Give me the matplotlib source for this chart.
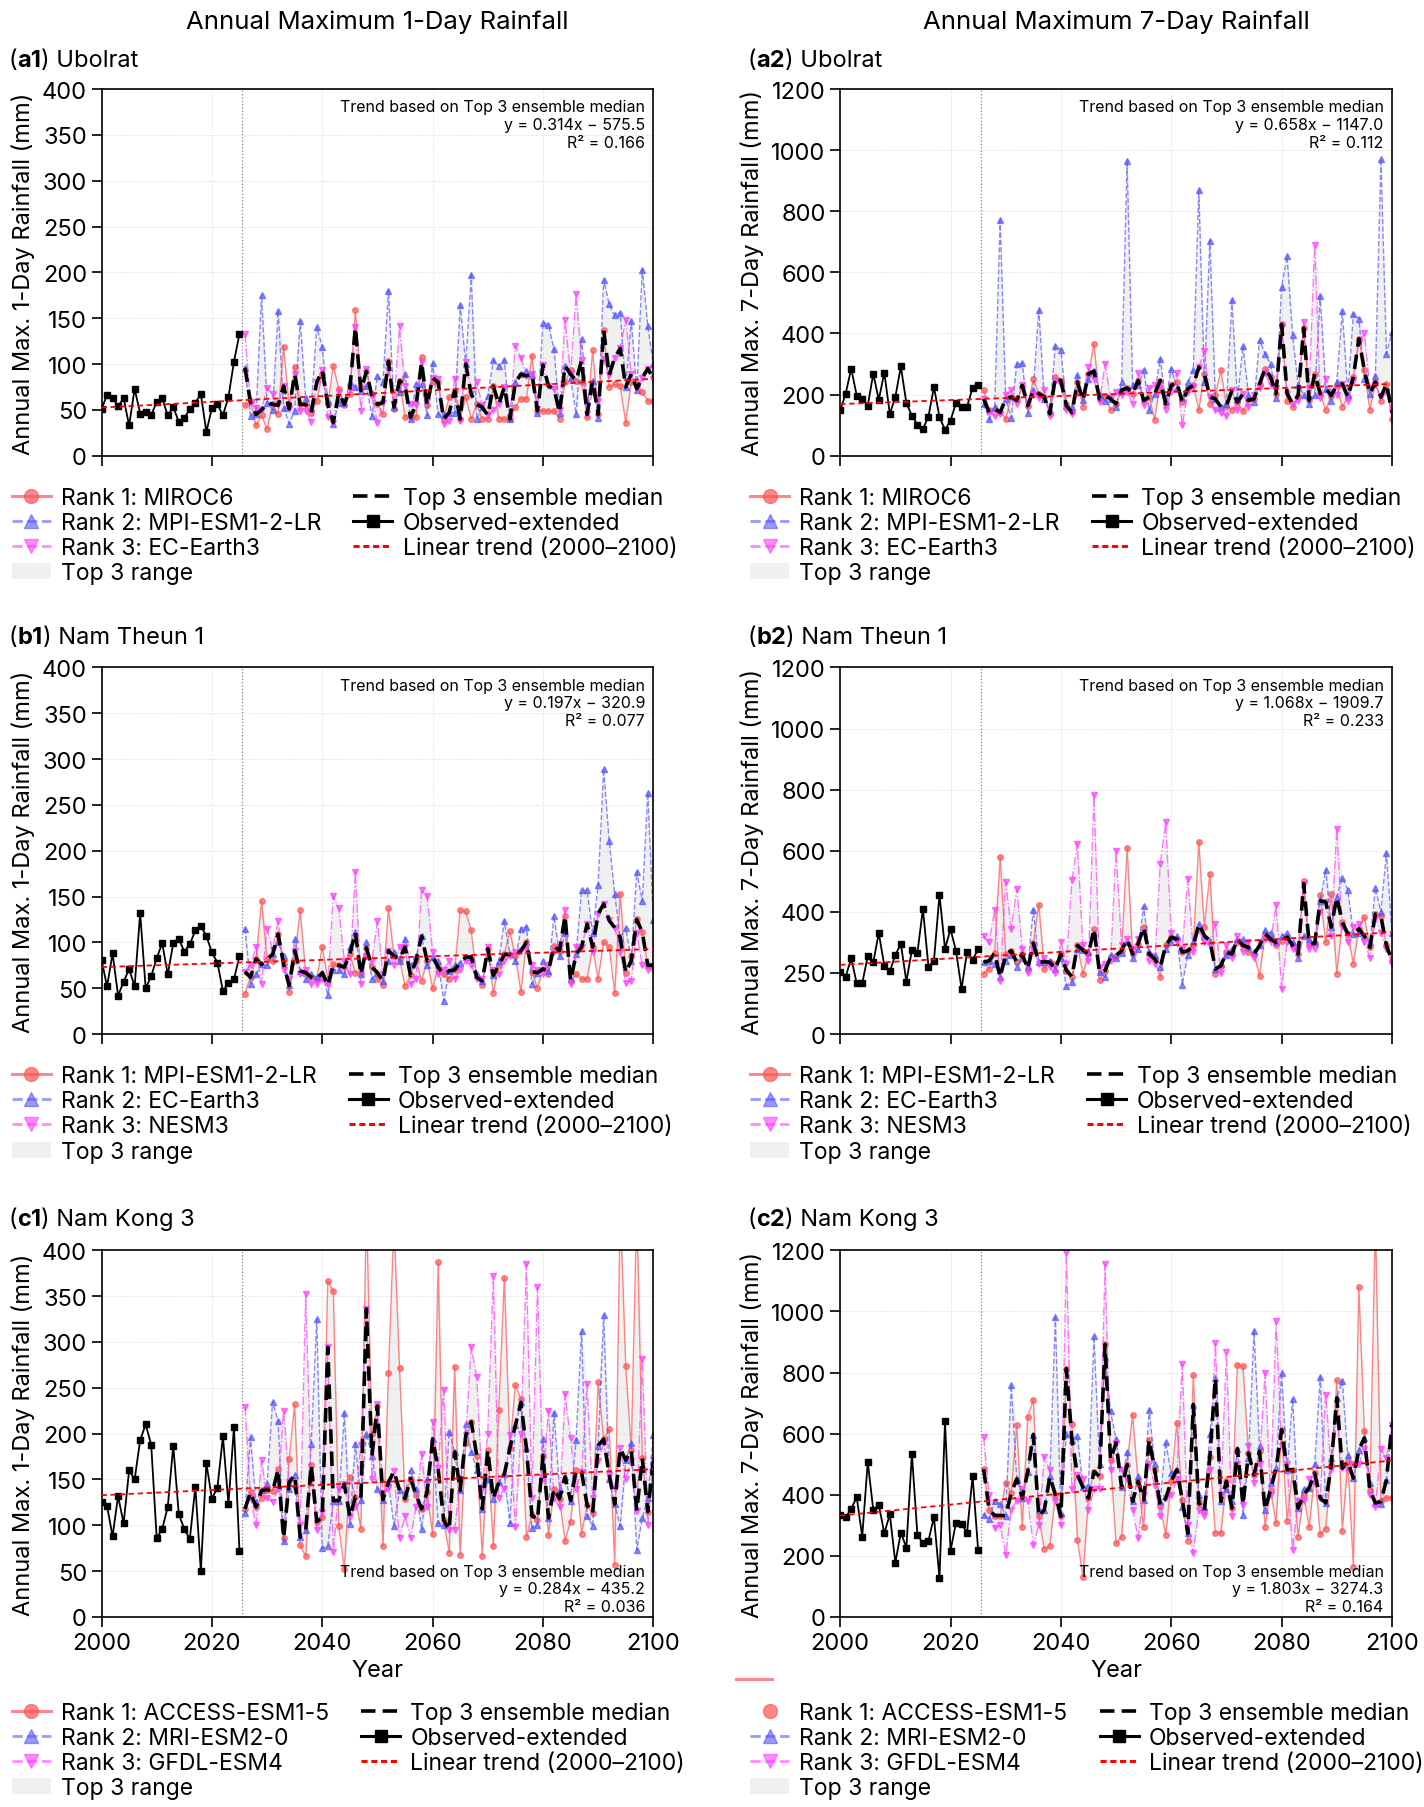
import numpy as np
import matplotlib
matplotlib.use('Agg')
import matplotlib.pyplot as plt
from matplotlib.lines import Line2D
from matplotlib.patches import Patch
from matplotlib.offsetbox import TextArea, HPacker, AnchoredOffsetbox

plt.rcParams['font.family'] = ['Inter', 'DejaVu Sans']

obs_years = np.arange(2000, 2026)
model_years = np.arange(2026, 2101)

# ---------------- (a1) Ubolrat, 1-day ----------------
a1_obs = [51, 66, 63, 54, 62.5, 33, 73, 46, 48, 44, 59, 62.5, 44, 53, 37, 41, 51, 58, 67, 26, 52, 56, 44, 64, 102.5, 133]
a1_rank1 = [55, 60, 33, 44, 29, 56, 45, 119, 55, 97, 56, 56, 47, 60, 89, 56, 98, 73, 55, 67,
            159, 75, 92, 67, 56, 45, 103, 51, 82, 42, 42, 42, 108, 55, 82, 80, 40, 64, 71, 40,
            64, 40, 56, 40, 40, 76, 40, 40, 40, 53, 62, 62, 109, 49, 49, 49, 49, 40, 80, 93,
            82, 80, 42, 115, 45, 137, 75, 78, 76, 36, 80, 78, 69, 60, 60]
a1_rank2 = [96, 43, 45, 175, 58, 50, 158, 52, 35, 49, 147, 63, 52, 140, 119, 60, 35, 58, 58, 80,
            75, 71, 76, 43, 87, 80, 180, 53, 70, 89, 40, 78, 78, 44, 101, 45, 44, 47, 47, 164,
            100, 197, 40, 53, 65, 104, 98, 104, 40, 80, 89, 92, 88, 47, 145, 143, 116, 47, 98, 85,
            45, 127, 60, 82, 41, 192, 165, 153, 156, 75, 147, 72, 203, 141, 100]
a1_rank3 = [133, 58, 52, 50, 74, 67, 55, 76, 51, 89, 49, 49, 37, 80, 93, 42, 36, 69, 56, 73,
            140, 49, 95, 65, 36, 58, 93, 56, 141, 76, 56, 55, 102, 60, 85, 84, 35, 38, 84, 38,
            102, 67, 80, 55, 44, 50, 56, 75, 42, 120, 107, 87, 89, 51, 99, 76, 73, 50, 148, 89,
            176, 104, 45, 70, 60, 105, 88, 107, 117, 148, 89, 73, 85, 95, 84]

# ---------------- (a2) Ubolrat, 7-day ----------------
a2_obs = [148, 203, 285, 197, 186, 164, 268, 183, 272, 137, 192, 292, 172, 131, 102, 88, 128, 225, 126, 85, 115, 173, 159, 161, 222, 232]
a2_rank1 = [215, 150, 153, 142, 120, 192, 181, 225, 164, 250, 203, 192, 137, 257, 246, 170, 142, 241, 160, 268,
            365, 186, 197, 150, 170, 214, 222, 203, 246, 181, 192, 117, 246, 170, 230, 241, 175, 219, 230, 150,
            268, 170, 200, 279, 164, 150, 175, 145, 181, 186, 235, 285, 257, 203, 430, 180, 160, 197, 418, 181,
            268, 203, 150, 197, 230, 160, 192, 257, 383, 279, 150, 241, 180, 235, 120]
a2_rank2 = [170, 120, 160, 770, 186, 124, 299, 303, 140, 214, 476, 185, 150, 358, 347, 164, 160, 263, 181, 250,
            277, 200, 180, 186, 160, 240, 964, 230, 230, 281, 150, 203, 318, 180, 285, 220, 190, 240, 280, 869,
            240, 704, 186, 159, 170, 509, 185, 359, 200, 175, 378, 334, 300, 190, 553, 652, 394, 230, 200, 170,
            200, 523, 219, 180, 240, 474, 200, 465, 449, 250, 203, 260, 971, 334, 405]
a2_rank3 = [186, 142, 130, 135, 200, 215, 170, 230, 170, 200, 190, 215, 130, 245, 230, 150, 135, 210, 200, 290,
            250, 175, 301, 190, 210, 200, 210, 170, 270, 165, 220, 230, 220, 150, 210, 270, 99, 210, 225, 290,
            342, 192, 150, 140, 130, 214, 150, 203, 160, 200, 220, 270, 230, 220, 420, 203, 170, 180, 438, 220,
            690, 190, 250, 210, 200, 235, 180, 240, 370, 400, 220, 230, 192, 210, 142]

# ---------------- (b1) Nam Theun 1, 1-day ----------------
b1_obs = [81, 52, 88, 42, 57, 71, 52, 132, 50, 63, 83, 99, 65, 99, 104, 90, 98, 113, 118, 107, 89, 78, 47, 56, 60, 85]
b1_rank1 = [44, 62, 82, 145, 82, 80, 109, 76, 46, 80, 135, 67, 62, 60, 95, 60, 76, 75, 73, 87,
            67, 67, 94, 73, 60, 53, 137, 85, 82, 52, 64, 80, 58, 80, 50, 73, 65, 60, 70, 135,
            134, 113, 62, 53, 93, 45, 75, 87, 112, 85, 46, 100, 68, 50, 71, 65, 96, 91, 129, 58,
            65, 60, 60, 95, 60, 100, 95, 45, 153, 67, 85, 125, 111, 75, 75]
b1_rank2 = [115, 55, 65, 76, 75, 87, 100, 85, 53, 104, 69, 60, 65, 62, 67, 43, 70, 70, 65, 95,
            111, 65, 100, 60, 67, 58, 80, 90, 80, 104, 75, 85, 107, 75, 84, 80, 36, 69, 75, 78,
            84, 84, 65, 58, 85, 64, 80, 123, 87, 80, 115, 117, 55, 67, 80, 69, 129, 85, 110, 60,
            87, 157, 157, 110, 163, 289, 211, 153, 105, 116, 80, 177, 145, 263, 124]
b1_rank3 = [68, 75, 95, 55, 115, 92, 123, 70, 60, 91, 65, 70, 55, 55, 60, 53, 151, 137, 80, 65,
            177, 55, 85, 80, 123, 65, 91, 75, 95, 95, 55, 60, 157, 151, 90, 65, 70, 80, 60, 70,
            80, 75, 60, 60, 95, 70, 65, 80, 85, 90, 91, 95, 75, 70, 65, 75, 90, 95, 135, 55,
            95, 95, 120, 90, 131, 142, 124, 116, 90, 56, 58, 110, 75, 70, 70]

# ---------------- (b2) Nam Theun 1, 7-day ----------------
b2_obs = [202, 188, 248, 166, 166, 255, 235, 331, 224, 205, 259, 295, 172, 275, 266, 410, 221, 240, 456, 279, 344, 271, 148, 270, 243, 277]
b2_rank1 = [197, 213, 265, 581, 262, 273, 235, 262, 213, 297, 424, 213, 235, 230, 262, 208, 188, 290, 197, 262,
            344, 177, 208, 251, 257, 273, 609, 262, 295, 350, 262, 246, 186, 290, 317, 311, 268, 273, 290, 628,
            350, 525, 197, 224, 268, 262, 300, 290, 270, 262, 191, 328, 311, 290, 306, 317, 290, 262, 500, 295,
            297, 454, 300, 459, 197, 366, 328, 230, 344, 383, 284, 393, 385, 290, 240]
b2_rank2 = [235, 240, 230, 186, 240, 260, 220, 250, 220, 407, 235, 237, 240, 213, 250, 158, 170, 280, 275, 270,
            330, 202, 186, 260, 250, 265, 300, 250, 280, 418, 270, 260, 219, 280, 300, 320, 162, 260, 300, 361,
            322, 306, 213, 230, 260, 280, 311, 310, 284, 270, 290, 340, 330, 300, 320, 330, 300, 250, 320, 310,
            300, 437, 538, 350, 448, 511, 472, 328, 330, 322, 300, 478, 400, 592, 330]
b2_rank3 = [320, 300, 407, 175, 497, 344, 475, 280, 200, 280, 230, 250, 220, 200, 300, 230, 503, 623, 290, 240,
            782, 220, 230, 240, 599, 290, 311, 280, 310, 330, 240, 230, 555, 694, 330, 300, 280, 508, 270, 340,
            300, 290, 361, 200, 290, 250, 320, 270, 300, 250, 300, 310, 300, 421, 148, 300, 280, 280, 492, 280,
            280, 400, 432, 320, 672, 350, 300, 350, 360, 300, 250, 380, 330, 280, 230]

# ---------------- (c1) Nam Kong 3, 1-day ----------------
c1_obs = [125, 121, 88, 132, 102, 160, 150, 193, 210, 188, 86, 96, 120, 187, 112, 96, 85, 142, 50, 168, 129, 141, 197, 123, 207, 72]
c1_rank1 = [118, 136, 120, 130, 139, 137, 161, 86, 172, 232, 78, 66, 166, 104, 109, 366, 356, 99, 52, 153,
            131, 96, 450, 200, 230, 77, 266, 430, 272, 129, 151, 133, 118, 136, 90, 387, 106, 70, 273, 68,
            190, 213, 176, 67, 182, 77, 226, 370, 184, 253, 238, 87, 111, 106, 176, 89, 140, 129, 83, 104,
            160, 91, 122, 113, 256, 194, 205, 57, 450, 274, 182, 450, 173, 115, 160]
c1_rank2 = [113, 196, 125, 138, 145, 235, 214, 83, 140, 155, 87, 95, 189, 325, 75, 77, 127, 127, 223, 101,
            189, 128, 200, 176, 140, 128, 147, 99, 138, 135, 160, 140, 96, 150, 194, 102, 100, 202, 180, 138,
            211, 180, 160, 118, 150, 129, 147, 156, 102, 209, 234, 184, 97, 100, 194, 108, 223, 140, 153, 127,
            193, 312, 110, 99, 187, 329, 150, 123, 99, 171, 190, 73, 108, 130, 199]
c1_rank3 = [229, 130, 100, 171, 130, 125, 140, 225, 147, 140, 100, 352, 150, 95, 115, 294, 71, 140, 145, 109,
            120, 188, 336, 150, 232, 135, 140, 159, 86, 110, 86, 120, 178, 120, 213, 162, 248, 95, 95, 150,
            198, 294, 262, 140, 200, 372, 130, 140, 198, 98, 200, 385, 130, 360, 150, 225, 130, 120, 243, 195,
            140, 158, 254, 130, 170, 190, 155, 140, 184, 150, 170, 116, 281, 100, 171]

# ---------------- (c2) Nam Kong 3, 7-day ----------------
c2_obs = [334, 326, 354, 392, 263, 507, 351, 367, 274, 336, 178, 276, 227, 534, 269, 241, 250, 327, 127, 640, 217, 309, 304, 276, 462, 220]
c2_rank1 = [484, 351, 332, 332, 440, 405, 627, 293, 654, 711, 329, 223, 231, 400, 329, 813, 631, 252, 132, 389,
            476, 460, 892, 515, 241, 263, 498, 662, 444, 293, 580, 482, 364, 269, 444, 635, 383, 249, 793, 373,
            347, 525, 274, 274, 444, 356, 826, 820, 536, 465, 542, 296, 416, 307, 613, 315, 482, 263, 400, 293,
            471, 271, 289, 498, 774, 282, 509, 165, 1079, 610, 416, 1300, 378, 391, 391]
c2_rank2 = [334, 320, 380, 370, 332, 758, 452, 389, 476, 597, 350, 351, 460, 981, 340, 600, 580, 593, 424, 430,
            919, 500, 850, 673, 582, 424, 540, 378, 460, 383, 678, 500, 380, 572, 470, 482, 360, 274, 695, 400,
            360, 600, 782, 378, 420, 380, 551, 334, 520, 935, 560, 351, 440, 487, 799, 482, 714, 356, 420, 422,
            500, 785, 373, 520, 717, 771, 530, 454, 547, 586, 440, 373, 370, 449, 635]
c2_rank3 = [588, 400, 290, 300, 203, 350, 380, 420, 380, 236, 300, 525, 480, 380, 300, 1192, 420, 465, 450, 350,
            420, 420, 1154, 480, 570, 480, 450, 350, 258, 400, 500, 430, 330, 389, 400, 450, 828, 300, 209, 350,
            330, 480, 897, 400, 866, 330, 500, 367, 560, 440, 500, 799, 400, 968, 560, 500, 220, 380, 380, 450,
            440, 389, 728, 480, 650, 487, 480, 500, 500, 550, 400, 360, 550, 520, 629]

# trend coefficients (from the annotations)
trend_slopes = [0.314, 0.658, 0.197, 1.068, 0.284, 1.803]
trend_intercepts = [-575.5, -1147.0, -320.9, -1909.7, -435.2, -3274.3]
trend_r2 = ['0.166', '0.112', '0.077', '0.233', '0.036', '0.164']

panel_ids = ['a1', 'a2', 'b1', 'b2', 'c1', 'c2']
site_names = ['Ubolrat', 'Ubolrat', 'Nam Theun 1', 'Nam Theun 1', 'Nam Kong 3', 'Nam Kong 3']
model_names = [['MIROC6', 'MPI-ESM1-2-LR', 'EC-Earth3'],
               ['MIROC6', 'MPI-ESM1-2-LR', 'EC-Earth3'],
               ['MPI-ESM1-2-LR', 'EC-Earth3', 'NESM3'],
               ['MPI-ESM1-2-LR', 'EC-Earth3', 'NESM3'],
               ['ACCESS-ESM1-5', 'MRI-ESM2-0', 'GFDL-ESM4'],
               ['ACCESS-ESM1-5', 'MRI-ESM2-0', 'GFDL-ESM4']]
col_titles = ['Annual Maximum 1-Day Rainfall', 'Annual Maximum 7-Day Rainfall']
ylabels = ['Annual Max. 1-Day Rainfall (mm)', 'Annual Max. 7-Day Rainfall (mm)']
yticks_1day = [0, 50, 100, 150, 200, 250, 300, 350, 400]
yticks_7day = [0, 200, 400, 600, 800, 1000, 1200]
yticklabels_7day_b2 = ['0', '250', '400', '600', '800', '1000', '1200']
xticks = [2000, 2020, 2040, 2060, 2080, 2100]

obs_all = [a1_obs, a2_obs, b1_obs, b2_obs, c1_obs, c2_obs]
r1_all = [a1_rank1, a2_rank1, b1_rank1, b2_rank1, c1_rank1, c2_rank1]
r2_all = [a1_rank2, a2_rank2, b1_rank2, b2_rank2, c1_rank2, c2_rank2]
r3_all = [a1_rank3, a2_rank3, b1_rank3, b2_rank3, c1_rank3, c2_rank3]

C1 = '#ff5555'
C2 = '#5555ff'
C3 = '#ff3dff'
RANGE_C = '#d6d6d6'

fig = plt.figure(figsize=(14.24, 18.08), dpi=100)
col_left = [0.0713, 0.590]
row_bottom = [0.7474, 0.4275, 0.1051]
W, H = 0.3875, 0.2028

FS = 17
for i in range(6):
    row, col = divmod(i, 2)
    ax = fig.add_axes([col_left[col], row_bottom[row], W, H])
    obs = np.array(obs_all[i], float)
    r1 = np.array(r1_all[i], float)
    r2 = np.array(r2_all[i], float)
    r3 = np.array(r3_all[i], float)
    stack = np.vstack([r1, r2, r3])
    med = np.median(stack, axis=0)
    lo, hi = stack.min(axis=0), stack.max(axis=0)

    ax.fill_between(model_years, lo, hi, color=RANGE_C, alpha=0.35, lw=0, zorder=1)
    ax.plot(model_years, r1, color=C1, lw=1.0, marker='o', ms=4, alpha=0.7, zorder=2)
    ax.plot(model_years, r2, color=C2, lw=1.0, ls='--', marker='^', ms=4, alpha=0.7, zorder=2)
    ax.plot(model_years, r3, color=C3, lw=1.0, ls='-.', marker='v', ms=4, alpha=0.7, zorder=2)
    ax.plot(model_years, med, color='black', lw=2.6, ls=(0, (4, 2.2)), zorder=4)
    ax.plot(obs_years, obs, color='black', lw=1.3, marker='s', ms=4, zorder=4)
    tx = np.array([2000, 2100])
    ax.plot(tx, trend_slopes[i] * tx + trend_intercepts[i], color='red', lw=1.3,
            ls=(0, (3, 2)), zorder=5)
    ax.axvline(2025.5, color='gray', ls=':', lw=0.9, zorder=1)

    ax.set_xlim(2000, 2100)
    ax.set_xticks(xticks)
    if col == 0:
        ax.set_ylim(0, 400)
        ax.set_yticks(yticks_1day)
    else:
        ax.set_ylim(0, 1200)
        ax.set_yticks(yticks_7day)
        if i == 3:
            ax.set_yticklabels(yticklabels_7day_b2)
    ax.grid(True, ls='--', lw=0.6, color='#cccccc', alpha=0.5)
    ax.tick_params(labelsize=FS, length=7, width=1.2, direction='out')
    for s in ax.spines.values():
        s.set_linewidth(1.2)
    if row < 2:
        ax.tick_params(labelbottom=False)
    else:
        ax.set_xlabel('Year', fontsize=FS, labelpad=4)
    ax.set_ylabel(ylabels[col], fontsize=FS, labelpad=5)

    sign = '−' if trend_intercepts[i] < 0 else '+'
    ann = ('Trend based on Top 3 ensemble median\n'
           f'y = {trend_slopes[i]:.3f}x {sign} {abs(trend_intercepts[i]):.1f}\n'
           f'R² = {trend_r2[i]}')
    if row < 2:
        ax.text(0.985, 0.972, ann, transform=ax.transAxes, ha='right', va='top',
                fontsize=11.5, linespacing=1.22, zorder=6)
    else:
        ax.text(0.985, 0.008, ann, transform=ax.transAxes, ha='right', va='bottom',
                fontsize=11.5, linespacing=1.22, zorder=6)

    # panel label
    box = HPacker(children=[TextArea('(', textprops=dict(size=FS)),
                            TextArea(panel_ids[i], textprops=dict(size=FS, weight='bold')),
                            TextArea(') ' + site_names[i], textprops=dict(size=FS))],
                  align='baseline', pad=0, sep=0)
    ly = [1.08, 1.083, 1.087][row]
    ab = AnchoredOffsetbox(loc='center left', child=box, pad=0, borderpad=0, frameon=False,
                           bbox_to_anchor=(-0.168, ly), bbox_transform=ax.transAxes)
    ax.add_artist(ab)

    if row == 0:
        fig.text(col_left[col] + W / 2, 0.9875, col_titles[col], ha='center', va='center', fontsize=18.5)

    names = model_names[i]
    h1 = Line2D([], [], color=C1, lw=2.2, marker='o', ms=10, alpha=0.7)
    if i == 5:
        h1 = Line2D([], [], color=C1, lw=0, ls='none', marker='o', ms=10, alpha=0.7)
    handles = [h1,
               Line2D([], [], color=C2, lw=2.0, ls='--', marker='^', ms=10, alpha=0.6),
               Line2D([], [], color=C3, lw=2.0, ls='--', marker='v', ms=10, alpha=0.6),
               Patch(facecolor=RANGE_C, alpha=0.35, edgecolor='none'),
               Line2D([], [], color='black', lw=2.6, ls=(0, (4, 2))),
               Line2D([], [], color='black', lw=2.2, marker='s', ms=8),
               Line2D([], [], color='red', lw=2.2, ls=(0, (2, 1.2)))]
    labels = [f'Rank 1: {names[0]}', f'Rank 2: {names[1]}', f'Rank 3: {names[2]}', 'Top 3 range',
              'Top 3 ensemble median', 'Observed-extended', 'Linear trend (2000–2100)']
    ly_leg = -0.083 if row < 2 else -0.23
    ax.legend(handles, labels, ncol=2, loc='upper left', bbox_to_anchor=(-0.163, ly_leg),
              frameon=False, fontsize=16.5, labelspacing=0.14, handlelength=1.7,
              handletextpad=0.45, columnspacing=1.4, borderpad=0, borderaxespad=0)

# stray legend line segment above the (c2) legend
fig.add_artist(Line2D([0.517, 0.542], [0.0708, 0.0708], color=C1, lw=2.2, alpha=0.7,
                      transform=fig.transFigure))

fig.savefig('out.png', dpi=100)
